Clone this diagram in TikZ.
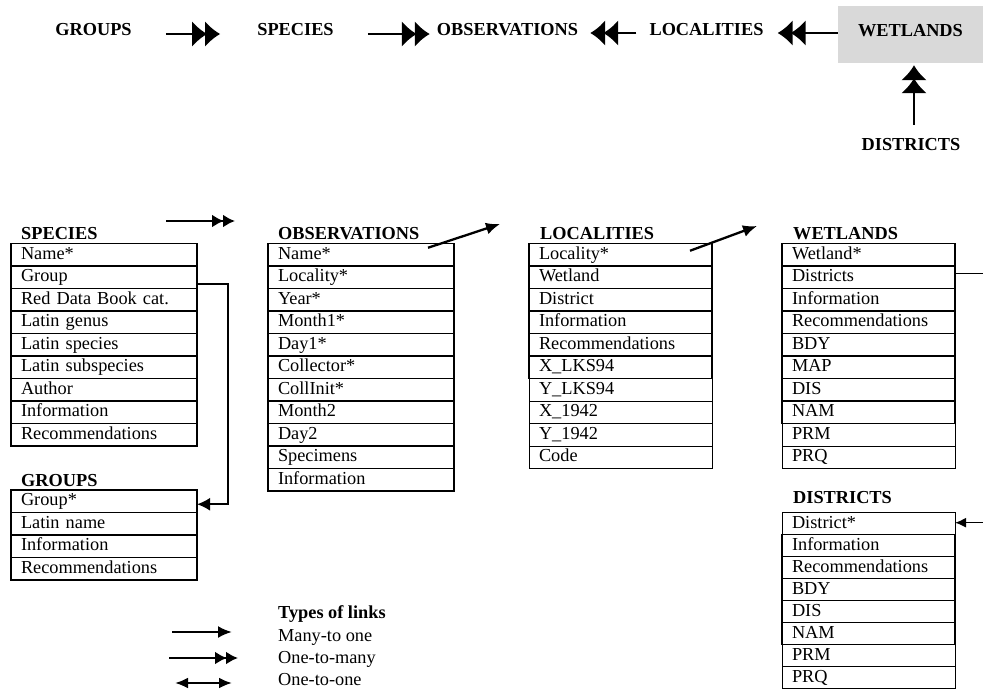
\documentclass[tikz,border=0pt]{standalone}
\usepackage{fontspec}
\setmainfont{Liberation Serif}
\usetikzlibrary{calc,arrows.meta}

\newcommand\diagfont{\fontsize{18.3}{21}\selectfont}

\tikzset{
  rowbox/.style={draw, line width=1.5pt, anchor=north west, outer sep=0pt,
    inner xsep=10pt, inner ysep=0pt, minimum height=22.5pt,
    text height=13pt, text depth=4pt, align=left},
  thinrow/.style={line width=0.7pt},
  tbltitle/.style={anchor=base west, inner sep=0pt, font=\diagfont\bfseries},
  toplbl/.style={inner sep=0pt, font=\diagfont\bfseries},
  manyone/.style={line width=2.3pt, -{Latex[length=14pt,width=12pt]}},
  onemany/.style={line width=2.3pt, -{Latex[length=12pt,width=13pt,sep=-1pt] Latex[length=12pt,width=13pt]}},
  oneone/.style={line width=2.3pt, {Latex[length=13pt,width=11pt]}-{Latex[length=13pt,width=11pt]}},
  bigonemany/.style={line width=2.3pt, -{Latex[length=15pt,width=26pt,sep=-2pt] Latex[length=15pt,width=26pt]}},
}

\begin{document}
\begin{tikzpicture}[x=1pt,y=-1pt,font=\diagfont]
  \clip (0,0) rectangle (983,689);

  % overview of the tables
  \node[toplbl] (tgroups) at (93.5,30) {GROUPS};
  \node[toplbl] (tspecies) at (295.5,30) {SPECIES};
  \node[toplbl] (tobs) at (507.5,30) {OBSERVATIONS};
  \node[toplbl] (tloc) at (706.5,30) {LOCALITIES};
  \node[toplbl, fill=black!15, minimum width=145pt, minimum height=57pt, text depth=9pt] (twet) at (910.5,34.5) {WETLANDS};
  \node[toplbl] (tdis) at (911,145) {DISTRICTS};
  \draw[bigonemany] ($(tgroups.east)+(34,4)$) -- ($(tspecies.west)+(-37,4)$);
  \draw[bigonemany] ($(tspecies.east)+(34,4)$) -- ($(tobs.west)+(-7,4)$);
  \draw[bigonemany] ($(tloc.west)+(-13,3)$) -- ($(tobs.east)+(12,3)$);
  \draw[bigonemany] ($(twet.west)+(0,-1.5)$) -- ($(tloc.east)+(14,3)$);
  \draw[bigonemany] ($(tdis.north)+(3,-14)$) -- ($(twet.south)+(3.5,2)$);

  % SPECIES
  \node[tbltitle] (spe) at (21,239) {SPECIES};
  \foreach \txt [count=\i] in {Name*,Group,Red Data Book cat.,Latin genus,Latin species,
      Latin subspecies,Author,Information,Recommendations}
    \node[rowbox, text width=166pt] (spe-\i) at (11,{243.5+(\i-1)*22.5}) {\txt};

  % GROUPS
  \node[tbltitle] (grp) at (21,486) {GROUPS};
  \foreach \txt [count=\i] in {Group*,Latin name,Information,Recommendations}
    \node[rowbox, text width=166pt] (grp-\i) at (11,{490+(\i-1)*22.5}) {\txt};

  % OBSERVATIONS
  \node[tbltitle] (obs) at (278,239) {OBSERVATIONS};
  \foreach \txt [count=\i] in {Name*,Locality*,Year*,Month1*,Day1*,Collector*,CollInit*,
      Month2,Day2,Specimens,Information}
    \node[rowbox, text width=166pt] (obs-\i) at (268,{243.5+(\i-1)*22.5}) {\txt};

  % LOCALITIES
  \node[tbltitle] (loc) at (540,239) {LOCALITIES};
  \foreach \txt [count=\i from 7] in {Y\_LKS94,X\_1942,Y\_1942,Code}
    \node[rowbox, thinrow, text width=163pt] (loc-\i) at (529,{243.5+(\i-1)*22.5}) {\txt};
  \foreach \txt [count=\i] in {Locality*,Wetland,District,Information,Recommendations,X\_LKS94}
    \node[rowbox, text width=163pt] (loc-\i) at (529,{243.5+(\i-1)*22.5}) {\txt};

  % WETLANDS
  \node[tbltitle] (wet) at (793,239) {WETLANDS};
  \foreach \txt [count=\i from 9] in {PRM,PRQ}
    \node[rowbox, thinrow, text width=153pt] (wet-\i) at (782,{243.5+(\i-1)*22.5}) {\txt};
  \foreach \txt [count=\i] in {Wetland*,Districts,Information,Recommendations,BDY,MAP,DIS,NAM}
    \node[rowbox, text width=153pt] (wet-\i) at (782,{243.5+(\i-1)*22.5}) {\txt};

  % DISTRICTS
  \node[tbltitle] (dis) at (793,503) {DISTRICTS};
  \node[rowbox, thinrow, text width=153pt, minimum height=22pt] (dis-1) at (782,512.7) {District*};
  \foreach \txt [count=\i from 7] in {PRM,PRQ}
    \node[rowbox, thinrow, text width=153pt, minimum height=22pt] (dis-\i) at (782,{512.7+(\i-1)*22}) {\txt};
  \foreach \txt [count=\i from 2] in {Information,Recommendations,BDY,DIS,NAM}
    \node[rowbox, text width=153pt, minimum height=22pt] (dis-\i) at (782,{512.7+(\i-1)*22}) {\txt};

  % links between the tables
  \coordinate (sotail) at (166,221);
  \coordinate (sohead) at (235,221);
  \coordinate (olhead) at (500,224);
  \coordinate (lwhead) at (757,226);
  \draw[onemany] (sotail) -- (sohead);
  \draw[manyone] ($(obs-1.east)+(-26,-7)$) -- (olhead);
  \draw[manyone] ($(loc-1.east)+(-22,-4)$) -- (lwhead);
  \draw[line width=1.8pt, -{Latex[length=13pt,width=13pt]}]
    ($(spe-2.east)+(0,7)$) -- ++(31,0) |- ($(grp-1.east)+(0,3)$);
  \draw[line width=1.5pt, -{Latex[length=11pt,width=10pt]}]
    ($(wet-2.east)+(0,-4)$) -- ++(40,0) |- ($(dis-1.east)+(0,-1)$);

  % legend
  \node[tbltitle] (lgtitle) at (278,618) {Types of links};
  \node[anchor=base west, inner sep=0pt] (lg1) at (278,641) {Many-to one};
  \node[anchor=base west, inner sep=0pt] (lg2) at (278,663) {One-to-many};
  \node[anchor=base west, inner sep=0pt] (lg3) at (278,685) {One-to-one};
  \draw[manyone] ($(lg1.base west)+(-106,-9)$) -- ($(lg1.base west)+(-46,-9)$);
  \draw[onemany] ($(lg2.base west)+(-109,-5)$) -- ($(lg2.base west)+(-40,-5)$);
  \draw[oneone] ($(lg3.base west)+(-103,-2)$) -- ($(lg3.base west)+(-46,-2)$);
\end{tikzpicture}
\end{document}
